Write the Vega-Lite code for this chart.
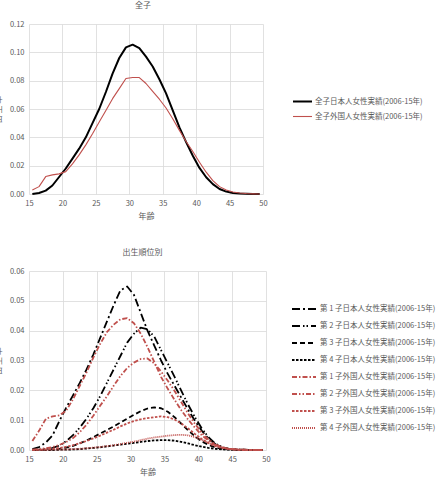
{
"$schema": "https://vega.github.io/schema/vega-lite/v6.json",
"padding": {"left": -6, "top": 2, "right": 0, "bottom": 0},
"background": "white",
"config": {
  "font": "Noto Sans CJK JP",
  "view": {"stroke": null},
  "axis": {"grid": true, "gridColor": "#d9d9d9", "gridWidth": 0.8, "domain": false, "ticks": false, "labelFlush": false, "labelColor": "#595959", "labelFontSize": 7.5, "titleColor": "#595959", "titleFontSize": 8, "titleFontWeight": "normal", "labelPadding": 5},
  "legend": {"labelColor": "#595959", "labelFontSize": 7.5, "symbolType": "stroke"},
  "title": {"fontSize": 8, "fontWeight": "normal", "color": "#595959"},
  "concat": {"spacing": 28}
},
"resolve": {"scale": {"color": "independent", "strokeWidth": "independent", "strokeDash": "independent"}, "legend": {"color": "independent", "strokeWidth": "independent", "strokeDash": "independent"}},
"datasets": {
"top": [
{"age":15.5,"s":"全子日本人女性実績(2006-15年)","v":0.0},
{"age":16.5,"s":"全子日本人女性実績(2006-15年)","v":0.0007},
{"age":17.5,"s":"全子日本人女性実績(2006-15年)","v":0.0024},
{"age":18.5,"s":"全子日本人女性実績(2006-15年)","v":0.006},
{"age":19.5,"s":"全子日本人女性実績(2006-15年)","v":0.012},
{"age":20.5,"s":"全子日本人女性実績(2006-15年)","v":0.018},
{"age":21.5,"s":"全子日本人女性実績(2006-15年)","v":0.025},
{"age":22.5,"s":"全子日本人女性実績(2006-15年)","v":0.032},
{"age":23.5,"s":"全子日本人女性実績(2006-15年)","v":0.040},
{"age":24.5,"s":"全子日本人女性実績(2006-15年)","v":0.050},
{"age":25.5,"s":"全子日本人女性実績(2006-15年)","v":0.060},
{"age":26.5,"s":"全子日本人女性実績(2006-15年)","v":0.072},
{"age":27.5,"s":"全子日本人女性実績(2006-15年)","v":0.085},
{"age":28.5,"s":"全子日本人女性実績(2006-15年)","v":0.096},
{"age":29.5,"s":"全子日本人女性実績(2006-15年)","v":0.1035},
{"age":30.5,"s":"全子日本人女性実績(2006-15年)","v":0.1054},
{"age":31.5,"s":"全子日本人女性実績(2006-15年)","v":0.103},
{"age":32.5,"s":"全子日本人女性実績(2006-15年)","v":0.097},
{"age":33.5,"s":"全子日本人女性実績(2006-15年)","v":0.090},
{"age":34.5,"s":"全子日本人女性実績(2006-15年)","v":0.081},
{"age":35.5,"s":"全子日本人女性実績(2006-15年)","v":0.071},
{"age":36.5,"s":"全子日本人女性実績(2006-15年)","v":0.059},
{"age":37.5,"s":"全子日本人女性実績(2006-15年)","v":0.047},
{"age":38.5,"s":"全子日本人女性実績(2006-15年)","v":0.0366},
{"age":39.5,"s":"全子日本人女性実績(2006-15年)","v":0.027},
{"age":40.5,"s":"全子日本人女性実績(2006-15年)","v":0.0184},
{"age":41.5,"s":"全子日本人女性実績(2006-15年)","v":0.0118},
{"age":42.5,"s":"全子日本人女性実績(2006-15年)","v":0.007},
{"age":43.5,"s":"全子日本人女性実績(2006-15年)","v":0.0035},
{"age":44.5,"s":"全子日本人女性実績(2006-15年)","v":0.0017},
{"age":45.5,"s":"全子日本人女性実績(2006-15年)","v":0.0007},
{"age":46.5,"s":"全子日本人女性実績(2006-15年)","v":0.0003},
{"age":47.5,"s":"全子日本人女性実績(2006-15年)","v":0.0001},
{"age":48.5,"s":"全子日本人女性実績(2006-15年)","v":0.0},
{"age":49.5,"s":"全子日本人女性実績(2006-15年)","v":0.0},
{"age":15.5,"s":"全子外国人女性実績(2006-15年)","v":0.0028},
{"age":16.5,"s":"全子外国人女性実績(2006-15年)","v":0.0052},
{"age":17.5,"s":"全子外国人女性実績(2006-15年)","v":0.0123},
{"age":18.5,"s":"全子外国人女性実績(2006-15年)","v":0.0135},
{"age":19.5,"s":"全子外国人女性実績(2006-15年)","v":0.0142},
{"age":20.5,"s":"全子外国人女性実績(2006-15年)","v":0.0158},
{"age":21.5,"s":"全子外国人女性実績(2006-15年)","v":0.0213},
{"age":22.5,"s":"全子外国人女性実績(2006-15年)","v":0.0276},
{"age":23.5,"s":"全子外国人女性実績(2006-15年)","v":0.0347},
{"age":24.5,"s":"全子外国人女性実績(2006-15年)","v":0.0425},
{"age":25.5,"s":"全子外国人女性実績(2006-15年)","v":0.0508},
{"age":26.5,"s":"全子外国人女性実績(2006-15年)","v":0.059},
{"age":27.5,"s":"全子外国人女性実績(2006-15年)","v":0.0673},
{"age":28.5,"s":"全子外国人女性実績(2006-15年)","v":0.0744},
{"age":29.5,"s":"全子外国人女性実績(2006-15年)","v":0.0815},
{"age":30.5,"s":"全子外国人女性実績(2006-15年)","v":0.0822},
{"age":31.5,"s":"全子外国人女性実績(2006-15年)","v":0.0822},
{"age":32.5,"s":"全子外国人女性実績(2006-15年)","v":0.078},
{"age":33.5,"s":"全子外国人女性実績(2006-15年)","v":0.0725},
{"age":34.5,"s":"全子外国人女性実績(2006-15年)","v":0.0669},
{"age":35.5,"s":"全子外国人女性実績(2006-15年)","v":0.0607},
{"age":36.5,"s":"全子外国人女性実績(2006-15年)","v":0.0531},
{"age":37.5,"s":"全子外国人女性実績(2006-15年)","v":0.0449},
{"age":38.5,"s":"全子外国人女性実績(2006-15年)","v":0.0371},
{"age":39.5,"s":"全子外国人女性実績(2006-15年)","v":0.030},
{"age":40.5,"s":"全子外国人女性実績(2006-15年)","v":0.0224},
{"age":41.5,"s":"全子外国人女性実績(2006-15年)","v":0.0154},
{"age":42.5,"s":"全子外国人女性実績(2006-15年)","v":0.0094},
{"age":43.5,"s":"全子外国人女性実績(2006-15年)","v":0.0052},
{"age":44.5,"s":"全子外国人女性実績(2006-15年)","v":0.0028},
{"age":45.5,"s":"全子外国人女性実績(2006-15年)","v":0.0014},
{"age":46.5,"s":"全子外国人女性実績(2006-15年)","v":0.0007},
{"age":47.5,"s":"全子外国人女性実績(2006-15年)","v":0.0003},
{"age":48.5,"s":"全子外国人女性実績(2006-15年)","v":0.0001},
{"age":49.5,"s":"全子外国人女性実績(2006-15年)","v":0.0}
],
"bottom": [
{"age":15.5,"s":"第 1 子日本人女性実績(2006-15年)","v":0.0003},
{"age":16.5,"s":"第 1 子日本人女性実績(2006-15年)","v":0.001},
{"age":17.5,"s":"第 1 子日本人女性実績(2006-15年)","v":0.0025},
{"age":18.5,"s":"第 1 子日本人女性実績(2006-15年)","v":0.005},
{"age":19.5,"s":"第 1 子日本人女性実績(2006-15年)","v":0.0098},
{"age":20.5,"s":"第 1 子日本人女性実績(2006-15年)","v":0.0142},
{"age":21.5,"s":"第 1 子日本人女性実績(2006-15年)","v":0.0183},
{"age":22.5,"s":"第 1 子日本人女性実績(2006-15年)","v":0.0225},
{"age":23.5,"s":"第 1 子日本人女性実績(2006-15年)","v":0.027},
{"age":24.5,"s":"第 1 子日本人女性実績(2006-15年)","v":0.032},
{"age":25.5,"s":"第 1 子日本人女性実績(2006-15年)","v":0.0375},
{"age":26.5,"s":"第 1 子日本人女性実績(2006-15年)","v":0.043},
{"age":27.5,"s":"第 1 子日本人女性実績(2006-15年)","v":0.0485},
{"age":28.5,"s":"第 1 子日本人女性実績(2006-15年)","v":0.0535},
{"age":29.5,"s":"第 1 子日本人女性実績(2006-15年)","v":0.0548},
{"age":30.5,"s":"第 1 子日本人女性実績(2006-15年)","v":0.052},
{"age":31.5,"s":"第 1 子日本人女性実績(2006-15年)","v":0.046},
{"age":32.5,"s":"第 1 子日本人女性実績(2006-15年)","v":0.040},
{"age":33.5,"s":"第 1 子日本人女性実績(2006-15年)","v":0.035},
{"age":34.5,"s":"第 1 子日本人女性実績(2006-15年)","v":0.030},
{"age":35.5,"s":"第 1 子日本人女性実績(2006-15年)","v":0.0255},
{"age":36.5,"s":"第 1 子日本人女性実績(2006-15年)","v":0.0215},
{"age":37.5,"s":"第 1 子日本人女性実績(2006-15年)","v":0.0175},
{"age":38.5,"s":"第 1 子日本人女性実績(2006-15年)","v":0.0135},
{"age":39.5,"s":"第 1 子日本人女性実績(2006-15年)","v":0.0098},
{"age":40.5,"s":"第 1 子日本人女性実績(2006-15年)","v":0.0065},
{"age":41.5,"s":"第 1 子日本人女性実績(2006-15年)","v":0.0038},
{"age":42.5,"s":"第 1 子日本人女性実績(2006-15年)","v":0.002},
{"age":43.5,"s":"第 1 子日本人女性実績(2006-15年)","v":0.0009},
{"age":44.5,"s":"第 1 子日本人女性実績(2006-15年)","v":0.0004},
{"age":45.5,"s":"第 1 子日本人女性実績(2006-15年)","v":0.0002},
{"age":46.5,"s":"第 1 子日本人女性実績(2006-15年)","v":0.0001},
{"age":47.5,"s":"第 1 子日本人女性実績(2006-15年)","v":0},
{"age":48.5,"s":"第 1 子日本人女性実績(2006-15年)","v":0},
{"age":49.5,"s":"第 1 子日本人女性実績(2006-15年)","v":0},
{"age":15.5,"s":"第 2 子日本人女性実績(2006-15年)","v":0},
{"age":16.5,"s":"第 2 子日本人女性実績(2006-15年)","v":0.0001},
{"age":17.5,"s":"第 2 子日本人女性実績(2006-15年)","v":0.0003},
{"age":18.5,"s":"第 2 子日本人女性実績(2006-15年)","v":0.0007},
{"age":19.5,"s":"第 2 子日本人女性実績(2006-15年)","v":0.0015},
{"age":20.5,"s":"第 2 子日本人女性実績(2006-15年)","v":0.003},
{"age":21.5,"s":"第 2 子日本人女性実績(2006-15年)","v":0.005},
{"age":22.5,"s":"第 2 子日本人女性実績(2006-15年)","v":0.0075},
{"age":23.5,"s":"第 2 子日本人女性実績(2006-15年)","v":0.0105},
{"age":24.5,"s":"第 2 子日本人女性実績(2006-15年)","v":0.014},
{"age":25.5,"s":"第 2 子日本人女性実績(2006-15年)","v":0.018},
{"age":26.5,"s":"第 2 子日本人女性実績(2006-15年)","v":0.0225},
{"age":27.5,"s":"第 2 子日本人女性実績(2006-15年)","v":0.027},
{"age":28.5,"s":"第 2 子日本人女性実績(2006-15年)","v":0.0315},
{"age":29.5,"s":"第 2 子日本人女性実績(2006-15年)","v":0.036},
{"age":30.5,"s":"第 2 子日本人女性実績(2006-15年)","v":0.039},
{"age":31.5,"s":"第 2 子日本人女性実績(2006-15年)","v":0.041},
{"age":32.5,"s":"第 2 子日本人女性実績(2006-15年)","v":0.0405},
{"age":33.5,"s":"第 2 子日本人女性実績(2006-15年)","v":0.038},
{"age":34.5,"s":"第 2 子日本人女性実績(2006-15年)","v":0.0335},
{"age":35.5,"s":"第 2 子日本人女性実績(2006-15年)","v":0.029},
{"age":36.5,"s":"第 2 子日本人女性実績(2006-15年)","v":0.0245},
{"age":37.5,"s":"第 2 子日本人女性実績(2006-15年)","v":0.0198},
{"age":38.5,"s":"第 2 子日本人女性実績(2006-15年)","v":0.0152},
{"age":39.5,"s":"第 2 子日本人女性実績(2006-15年)","v":0.011},
{"age":40.5,"s":"第 2 子日本人女性実績(2006-15年)","v":0.0073},
{"age":41.5,"s":"第 2 子日本人女性実績(2006-15年)","v":0.0043},
{"age":42.5,"s":"第 2 子日本人女性実績(2006-15年)","v":0.0022},
{"age":43.5,"s":"第 2 子日本人女性実績(2006-15年)","v":0.001},
{"age":44.5,"s":"第 2 子日本人女性実績(2006-15年)","v":0.0004},
{"age":45.5,"s":"第 2 子日本人女性実績(2006-15年)","v":0.0002},
{"age":46.5,"s":"第 2 子日本人女性実績(2006-15年)","v":0.0001},
{"age":47.5,"s":"第 2 子日本人女性実績(2006-15年)","v":0},
{"age":48.5,"s":"第 2 子日本人女性実績(2006-15年)","v":0},
{"age":49.5,"s":"第 2 子日本人女性実績(2006-15年)","v":0},
{"age":15.5,"s":"第 3 子日本人女性実績(2006-15年)","v":0},
{"age":16.5,"s":"第 3 子日本人女性実績(2006-15年)","v":0},
{"age":17.5,"s":"第 3 子日本人女性実績(2006-15年)","v":0.0001},
{"age":18.5,"s":"第 3 子日本人女性実績(2006-15年)","v":0.0002},
{"age":19.5,"s":"第 3 子日本人女性実績(2006-15年)","v":0.0004},
{"age":20.5,"s":"第 3 子日本人女性実績(2006-15年)","v":0.0008},
{"age":21.5,"s":"第 3 子日本人女性実績(2006-15年)","v":0.0014},
{"age":22.5,"s":"第 3 子日本人女性実績(2006-15年)","v":0.0022},
{"age":23.5,"s":"第 3 子日本人女性実績(2006-15年)","v":0.0032},
{"age":24.5,"s":"第 3 子日本人女性実績(2006-15年)","v":0.0043},
{"age":25.5,"s":"第 3 子日本人女性実績(2006-15年)","v":0.0055},
{"age":26.5,"s":"第 3 子日本人女性実績(2006-15年)","v":0.0067},
{"age":27.5,"s":"第 3 子日本人女性実績(2006-15年)","v":0.0079},
{"age":28.5,"s":"第 3 子日本人女性実績(2006-15年)","v":0.0092},
{"age":29.5,"s":"第 3 子日本人女性実績(2006-15年)","v":0.0105},
{"age":30.5,"s":"第 3 子日本人女性実績(2006-15年)","v":0.0118},
{"age":31.5,"s":"第 3 子日本人女性実績(2006-15年)","v":0.013},
{"age":32.5,"s":"第 3 子日本人女性実績(2006-15年)","v":0.0139},
{"age":33.5,"s":"第 3 子日本人女性実績(2006-15年)","v":0.0143},
{"age":34.5,"s":"第 3 子日本人女性実績(2006-15年)","v":0.014},
{"age":35.5,"s":"第 3 子日本人女性実績(2006-15年)","v":0.0128},
{"age":36.5,"s":"第 3 子日本人女性実績(2006-15年)","v":0.011},
{"age":37.5,"s":"第 3 子日本人女性実績(2006-15年)","v":0.0088},
{"age":38.5,"s":"第 3 子日本人女性実績(2006-15年)","v":0.0066},
{"age":39.5,"s":"第 3 子日本人女性実績(2006-15年)","v":0.0046},
{"age":40.5,"s":"第 3 子日本人女性実績(2006-15年)","v":0.0029},
{"age":41.5,"s":"第 3 子日本人女性実績(2006-15年)","v":0.0017},
{"age":42.5,"s":"第 3 子日本人女性実績(2006-15年)","v":0.0009},
{"age":43.5,"s":"第 3 子日本人女性実績(2006-15年)","v":0.0004},
{"age":44.5,"s":"第 3 子日本人女性実績(2006-15年)","v":0.0002},
{"age":45.5,"s":"第 3 子日本人女性実績(2006-15年)","v":0.0001},
{"age":46.5,"s":"第 3 子日本人女性実績(2006-15年)","v":0},
{"age":47.5,"s":"第 3 子日本人女性実績(2006-15年)","v":0},
{"age":48.5,"s":"第 3 子日本人女性実績(2006-15年)","v":0},
{"age":49.5,"s":"第 3 子日本人女性実績(2006-15年)","v":0},
{"age":15.5,"s":"第 4 子日本人女性実績(2006-15年)","v":0},
{"age":16.5,"s":"第 4 子日本人女性実績(2006-15年)","v":0},
{"age":17.5,"s":"第 4 子日本人女性実績(2006-15年)","v":0},
{"age":18.5,"s":"第 4 子日本人女性実績(2006-15年)","v":0},
{"age":19.5,"s":"第 4 子日本人女性実績(2006-15年)","v":0.0001},
{"age":20.5,"s":"第 4 子日本人女性実績(2006-15年)","v":0.0001},
{"age":21.5,"s":"第 4 子日本人女性実績(2006-15年)","v":0.0002},
{"age":22.5,"s":"第 4 子日本人女性実績(2006-15年)","v":0.0003},
{"age":23.5,"s":"第 4 子日本人女性実績(2006-15年)","v":0.0005},
{"age":24.5,"s":"第 4 子日本人女性実績(2006-15年)","v":0.0007},
{"age":25.5,"s":"第 4 子日本人女性実績(2006-15年)","v":0.0009},
{"age":26.5,"s":"第 4 子日本人女性実績(2006-15年)","v":0.0012},
{"age":27.5,"s":"第 4 子日本人女性実績(2006-15年)","v":0.0015},
{"age":28.5,"s":"第 4 子日本人女性実績(2006-15年)","v":0.0018},
{"age":29.5,"s":"第 4 子日本人女性実績(2006-15年)","v":0.0021},
{"age":30.5,"s":"第 4 子日本人女性実績(2006-15年)","v":0.0024},
{"age":31.5,"s":"第 4 子日本人女性実績(2006-15年)","v":0.0027},
{"age":32.5,"s":"第 4 子日本人女性実績(2006-15年)","v":0.003},
{"age":33.5,"s":"第 4 子日本人女性実績(2006-15年)","v":0.0032},
{"age":34.5,"s":"第 4 子日本人女性実績(2006-15年)","v":0.0033},
{"age":35.5,"s":"第 4 子日本人女性実績(2006-15年)","v":0.0033},
{"age":36.5,"s":"第 4 子日本人女性実績(2006-15年)","v":0.0031},
{"age":37.5,"s":"第 4 子日本人女性実績(2006-15年)","v":0.0027},
{"age":38.5,"s":"第 4 子日本人女性実績(2006-15年)","v":0.0022},
{"age":39.5,"s":"第 4 子日本人女性実績(2006-15年)","v":0.0016},
{"age":40.5,"s":"第 4 子日本人女性実績(2006-15年)","v":0.0011},
{"age":41.5,"s":"第 4 子日本人女性実績(2006-15年)","v":0.0007},
{"age":42.5,"s":"第 4 子日本人女性実績(2006-15年)","v":0.0004},
{"age":43.5,"s":"第 4 子日本人女性実績(2006-15年)","v":0.0002},
{"age":44.5,"s":"第 4 子日本人女性実績(2006-15年)","v":0.0001},
{"age":45.5,"s":"第 4 子日本人女性実績(2006-15年)","v":0},
{"age":46.5,"s":"第 4 子日本人女性実績(2006-15年)","v":0},
{"age":47.5,"s":"第 4 子日本人女性実績(2006-15年)","v":0},
{"age":48.5,"s":"第 4 子日本人女性実績(2006-15年)","v":0},
{"age":49.5,"s":"第 4 子日本人女性実績(2006-15年)","v":0},
{"age":15.5,"s":"第 1 子外国人女性実績(2006-15年)","v":0.003},
{"age":16.5,"s":"第 1 子外国人女性実績(2006-15年)","v":0.0065},
{"age":17.5,"s":"第 1 子外国人女性実績(2006-15年)","v":0.0105},
{"age":18.5,"s":"第 1 子外国人女性実績(2006-15年)","v":0.0113},
{"age":19.5,"s":"第 1 子外国人女性実績(2006-15年)","v":0.0116},
{"age":20.5,"s":"第 1 子外国人女性実績(2006-15年)","v":0.0132},
{"age":21.5,"s":"第 1 子外国人女性実績(2006-15年)","v":0.017},
{"age":22.5,"s":"第 1 子外国人女性実績(2006-15年)","v":0.0215},
{"age":23.5,"s":"第 1 子外国人女性実績(2006-15年)","v":0.026},
{"age":24.5,"s":"第 1 子外国人女性実績(2006-15年)","v":0.031},
{"age":25.5,"s":"第 1 子外国人女性実績(2006-15年)","v":0.0355},
{"age":26.5,"s":"第 1 子外国人女性実績(2006-15年)","v":0.0395},
{"age":27.5,"s":"第 1 子外国人女性実績(2006-15年)","v":0.042},
{"age":28.5,"s":"第 1 子外国人女性実績(2006-15年)","v":0.0438},
{"age":29.5,"s":"第 1 子外国人女性実績(2006-15年)","v":0.0442},
{"age":30.5,"s":"第 1 子外国人女性実績(2006-15年)","v":0.0425},
{"age":31.5,"s":"第 1 子外国人女性実績(2006-15年)","v":0.039},
{"age":32.5,"s":"第 1 子外国人女性実績(2006-15年)","v":0.0345},
{"age":33.5,"s":"第 1 子外国人女性実績(2006-15年)","v":0.0295},
{"age":34.5,"s":"第 1 子外国人女性実績(2006-15年)","v":0.0245},
{"age":35.5,"s":"第 1 子外国人女性実績(2006-15年)","v":0.0205},
{"age":36.5,"s":"第 1 子外国人女性実績(2006-15年)","v":0.0168},
{"age":37.5,"s":"第 1 子外国人女性実績(2006-15年)","v":0.0133},
{"age":38.5,"s":"第 1 子外国人女性実績(2006-15年)","v":0.0102},
{"age":39.5,"s":"第 1 子外国人女性実績(2006-15年)","v":0.0075},
{"age":40.5,"s":"第 1 子外国人女性実績(2006-15年)","v":0.005},
{"age":41.5,"s":"第 1 子外国人女性実績(2006-15年)","v":0.0031},
{"age":42.5,"s":"第 1 子外国人女性実績(2006-15年)","v":0.0017},
{"age":43.5,"s":"第 1 子外国人女性実績(2006-15年)","v":0.0009},
{"age":44.5,"s":"第 1 子外国人女性実績(2006-15年)","v":0.0004},
{"age":45.5,"s":"第 1 子外国人女性実績(2006-15年)","v":0.0002},
{"age":46.5,"s":"第 1 子外国人女性実績(2006-15年)","v":0.0001},
{"age":47.5,"s":"第 1 子外国人女性実績(2006-15年)","v":0},
{"age":48.5,"s":"第 1 子外国人女性実績(2006-15年)","v":0},
{"age":49.5,"s":"第 1 子外国人女性実績(2006-15年)","v":0},
{"age":15.5,"s":"第 2 子外国人女性実績(2006-15年)","v":0.0001},
{"age":16.5,"s":"第 2 子外国人女性実績(2006-15年)","v":0.0003},
{"age":17.5,"s":"第 2 子外国人女性実績(2006-15年)","v":0.0006},
{"age":18.5,"s":"第 2 子外国人女性実績(2006-15年)","v":0.001},
{"age":19.5,"s":"第 2 子外国人女性実績(2006-15年)","v":0.0017},
{"age":20.5,"s":"第 2 子外国人女性実績(2006-15年)","v":0.0027},
{"age":21.5,"s":"第 2 子外国人女性実績(2006-15年)","v":0.004},
{"age":22.5,"s":"第 2 子外国人女性実績(2006-15年)","v":0.006},
{"age":23.5,"s":"第 2 子外国人女性実績(2006-15年)","v":0.0085},
{"age":24.5,"s":"第 2 子外国人女性実績(2006-15年)","v":0.0115},
{"age":25.5,"s":"第 2 子外国人女性実績(2006-15年)","v":0.0148},
{"age":26.5,"s":"第 2 子外国人女性実績(2006-15年)","v":0.018},
{"age":27.5,"s":"第 2 子外国人女性実績(2006-15年)","v":0.0215},
{"age":28.5,"s":"第 2 子外国人女性実績(2006-15年)","v":0.0248},
{"age":29.5,"s":"第 2 子外国人女性実績(2006-15年)","v":0.0275},
{"age":30.5,"s":"第 2 子外国人女性実績(2006-15年)","v":0.0293},
{"age":31.5,"s":"第 2 子外国人女性実績(2006-15年)","v":0.0305},
{"age":32.5,"s":"第 2 子外国人女性実績(2006-15年)","v":0.0307},
{"age":33.5,"s":"第 2 子外国人女性実績(2006-15年)","v":0.029},
{"age":34.5,"s":"第 2 子外国人女性実績(2006-15年)","v":0.0263},
{"age":35.5,"s":"第 2 子外国人女性実績(2006-15年)","v":0.0232},
{"age":36.5,"s":"第 2 子外国人女性実績(2006-15年)","v":0.0198},
{"age":37.5,"s":"第 2 子外国人女性実績(2006-15年)","v":0.016},
{"age":38.5,"s":"第 2 子外国人女性実績(2006-15年)","v":0.0122},
{"age":39.5,"s":"第 2 子外国人女性実績(2006-15年)","v":0.0088},
{"age":40.5,"s":"第 2 子外国人女性実績(2006-15年)","v":0.0058},
{"age":41.5,"s":"第 2 子外国人女性実績(2006-15年)","v":0.0035},
{"age":42.5,"s":"第 2 子外国人女性実績(2006-15年)","v":0.0019},
{"age":43.5,"s":"第 2 子外国人女性実績(2006-15年)","v":0.0009},
{"age":44.5,"s":"第 2 子外国人女性実績(2006-15年)","v":0.0004},
{"age":45.5,"s":"第 2 子外国人女性実績(2006-15年)","v":0.0002},
{"age":46.5,"s":"第 2 子外国人女性実績(2006-15年)","v":0.0001},
{"age":47.5,"s":"第 2 子外国人女性実績(2006-15年)","v":0},
{"age":48.5,"s":"第 2 子外国人女性実績(2006-15年)","v":0},
{"age":49.5,"s":"第 2 子外国人女性実績(2006-15年)","v":0},
{"age":15.5,"s":"第 3 子外国人女性実績(2006-15年)","v":0},
{"age":16.5,"s":"第 3 子外国人女性実績(2006-15年)","v":0.0001},
{"age":17.5,"s":"第 3 子外国人女性実績(2006-15年)","v":0.0002},
{"age":18.5,"s":"第 3 子外国人女性実績(2006-15年)","v":0.0004},
{"age":19.5,"s":"第 3 子外国人女性実績(2006-15年)","v":0.0007},
{"age":20.5,"s":"第 3 子外国人女性実績(2006-15年)","v":0.0011},
{"age":21.5,"s":"第 3 子外国人女性実績(2006-15年)","v":0.0016},
{"age":22.5,"s":"第 3 子外国人女性実績(2006-15年)","v":0.0023},
{"age":23.5,"s":"第 3 子外国人女性実績(2006-15年)","v":0.003},
{"age":24.5,"s":"第 3 子外国人女性実績(2006-15年)","v":0.0039},
{"age":25.5,"s":"第 3 子外国人女性実績(2006-15年)","v":0.0048},
{"age":26.5,"s":"第 3 子外国人女性実績(2006-15年)","v":0.0058},
{"age":27.5,"s":"第 3 子外国人女性実績(2006-15年)","v":0.0068},
{"age":28.5,"s":"第 3 子外国人女性実績(2006-15年)","v":0.0079},
{"age":29.5,"s":"第 3 子外国人女性実績(2006-15年)","v":0.0089},
{"age":30.5,"s":"第 3 子外国人女性実績(2006-15年)","v":0.0097},
{"age":31.5,"s":"第 3 子外国人女性実績(2006-15年)","v":0.0103},
{"age":32.5,"s":"第 3 子外国人女性実績(2006-15年)","v":0.0107},
{"age":33.5,"s":"第 3 子外国人女性実績(2006-15年)","v":0.011},
{"age":34.5,"s":"第 3 子外国人女性実績(2006-15年)","v":0.0113},
{"age":35.5,"s":"第 3 子外国人女性実績(2006-15年)","v":0.011},
{"age":36.5,"s":"第 3 子外国人女性実績(2006-15年)","v":0.0102},
{"age":37.5,"s":"第 3 子外国人女性実績(2006-15年)","v":0.0089},
{"age":38.5,"s":"第 3 子外国人女性実績(2006-15年)","v":0.0072},
{"age":39.5,"s":"第 3 子外国人女性実績(2006-15年)","v":0.0054},
{"age":40.5,"s":"第 3 子外国人女性実績(2006-15年)","v":0.0037},
{"age":41.5,"s":"第 3 子外国人女性実績(2006-15年)","v":0.0023},
{"age":42.5,"s":"第 3 子外国人女性実績(2006-15年)","v":0.0013},
{"age":43.5,"s":"第 3 子外国人女性実績(2006-15年)","v":0.0007},
{"age":44.5,"s":"第 3 子外国人女性実績(2006-15年)","v":0.0003},
{"age":45.5,"s":"第 3 子外国人女性実績(2006-15年)","v":0.0001},
{"age":46.5,"s":"第 3 子外国人女性実績(2006-15年)","v":0},
{"age":47.5,"s":"第 3 子外国人女性実績(2006-15年)","v":0},
{"age":48.5,"s":"第 3 子外国人女性実績(2006-15年)","v":0},
{"age":49.5,"s":"第 3 子外国人女性実績(2006-15年)","v":0},
{"age":15.5,"s":"第 4 子外国人女性実績(2006-15年)","v":0},
{"age":16.5,"s":"第 4 子外国人女性実績(2006-15年)","v":0},
{"age":17.5,"s":"第 4 子外国人女性実績(2006-15年)","v":0},
{"age":18.5,"s":"第 4 子外国人女性実績(2006-15年)","v":0.0001},
{"age":19.5,"s":"第 4 子外国人女性実績(2006-15年)","v":0.0001},
{"age":20.5,"s":"第 4 子外国人女性実績(2006-15年)","v":0.0002},
{"age":21.5,"s":"第 4 子外国人女性実績(2006-15年)","v":0.0003},
{"age":22.5,"s":"第 4 子外国人女性実績(2006-15年)","v":0.0004},
{"age":23.5,"s":"第 4 子外国人女性実績(2006-15年)","v":0.0006},
{"age":24.5,"s":"第 4 子外国人女性実績(2006-15年)","v":0.0008},
{"age":25.5,"s":"第 4 子外国人女性実績(2006-15年)","v":0.001},
{"age":26.5,"s":"第 4 子外国人女性実績(2006-15年)","v":0.0013},
{"age":27.5,"s":"第 4 子外国人女性実績(2006-15年)","v":0.0016},
{"age":28.5,"s":"第 4 子外国人女性実績(2006-15年)","v":0.002},
{"age":29.5,"s":"第 4 子外国人女性実績(2006-15年)","v":0.0024},
{"age":30.5,"s":"第 4 子外国人女性実績(2006-15年)","v":0.0028},
{"age":31.5,"s":"第 4 子外国人女性実績(2006-15年)","v":0.0033},
{"age":32.5,"s":"第 4 子外国人女性実績(2006-15年)","v":0.0038},
{"age":33.5,"s":"第 4 子外国人女性実績(2006-15年)","v":0.0042},
{"age":34.5,"s":"第 4 子外国人女性実績(2006-15年)","v":0.0045},
{"age":35.5,"s":"第 4 子外国人女性実績(2006-15年)","v":0.0048},
{"age":36.5,"s":"第 4 子外国人女性実績(2006-15年)","v":0.005},
{"age":37.5,"s":"第 4 子外国人女性実績(2006-15年)","v":0.0051},
{"age":38.5,"s":"第 4 子外国人女性実績(2006-15年)","v":0.0049},
{"age":39.5,"s":"第 4 子外国人女性実績(2006-15年)","v":0.0043},
{"age":40.5,"s":"第 4 子外国人女性実績(2006-15年)","v":0.0034},
{"age":41.5,"s":"第 4 子外国人女性実績(2006-15年)","v":0.0024},
{"age":42.5,"s":"第 4 子外国人女性実績(2006-15年)","v":0.0015},
{"age":43.5,"s":"第 4 子外国人女性実績(2006-15年)","v":0.0008},
{"age":44.5,"s":"第 4 子外国人女性実績(2006-15年)","v":0.0004},
{"age":45.5,"s":"第 4 子外国人女性実績(2006-15年)","v":0.0002},
{"age":46.5,"s":"第 4 子外国人女性実績(2006-15年)","v":0.0001},
{"age":47.5,"s":"第 4 子外国人女性実績(2006-15年)","v":0},
{"age":48.5,"s":"第 4 子外国人女性実績(2006-15年)","v":0},
{"age":49.5,"s":"第 4 子外国人女性実績(2006-15年)","v":0}
]
},
"vconcat": [
{
  "title": {"text": "全子", "dx": -3, "offset": 10},
  "width": 234, "height": 170,
  "data": {"name": "top"},
  "mark": {"type": "line", "strokeJoin": "round"},
  "encoding": {
    "x": {"field": "age", "type": "quantitative", "scale": {"domain": [15, 50], "nice": false}, "axis": {"values": [15,20,25,30,35,40,45,50], "title": "年齢", "titlePadding": 6}},
    "y": {"field": "v", "type": "quantitative", "scale": {"domain": [0, 0.12], "nice": false}, "axis": {"values": [0,0.02,0.04,0.06,0.08,0.1,0.12], "format": ".2f", "title": "出 生 率", "titlePadding": 7}},
    "color": {"field": "s", "type": "nominal", "scale": {"domain": ["全子日本人女性実績(2006-15年)", "全子外国人女性実績(2006-15年)"], "range": ["#000000", "#C0504D"]}, "legend": {"orient": "none", "legendX": 263, "legendY": 67, "title": null, "symbolSize": 360, "rowPadding": -4, "labelOffset": 2}},
    "strokeWidth": {"field": "s", "type": "nominal", "scale": {"domain": ["全子日本人女性実績(2006-15年)", "全子外国人女性実績(2006-15年)"], "range": [2, 1.1]}, "legend": {"orient": "none", "legendX": 263, "legendY": 67, "title": null, "symbolSize": 360, "rowPadding": -4, "labelOffset": 2}}
  }
},
{
  "title": {"text": "出生順位別", "dx": -5, "offset": 10},
  "width": 237, "height": 179,
  "data": {"name": "bottom"},
  "mark": {"type": "line", "strokeJoin": "round"},
  "encoding": {
    "x": {"field": "age", "type": "quantitative", "scale": {"domain": [15, 50], "nice": false}, "axis": {"values": [15,20,25,30,35,40,45,50], "title": "年齢", "titlePadding": 6}},
    "y": {"field": "v", "type": "quantitative", "scale": {"domain": [0, 0.06], "nice": false}, "axis": {"values": [0,0.01,0.02,0.03,0.04,0.05,0.06], "format": ".2f", "title": "出 生 率", "titlePadding": 7}},
    "color": {"field": "s", "type": "nominal", "scale": {"domain": ["第 1 子日本人女性実績(2006-15年)","第 2 子日本人女性実績(2006-15年)","第 3 子日本人女性実績(2006-15年)","第 4 子日本人女性実績(2006-15年)","第 1 子外国人女性実績(2006-15年)","第 2 子外国人女性実績(2006-15年)","第 3 子外国人女性実績(2006-15年)","第 4 子外国人女性実績(2006-15年)"], "range": ["#000000","#000000","#000000","#000000","#C0504D","#C0504D","#C0504D","#C0504D"]}, "legend": {"orient": "none", "legendX": 262, "legendY": 25, "title": null, "symbolSize": 576, "rowPadding": -13.5, "labelOffset": 3}},
    "strokeWidth": {"field": "s", "type": "nominal", "scale": {"domain": ["第 1 子日本人女性実績(2006-15年)","第 2 子日本人女性実績(2006-15年)","第 3 子日本人女性実績(2006-15年)","第 4 子日本人女性実績(2006-15年)","第 1 子外国人女性実績(2006-15年)","第 2 子外国人女性実績(2006-15年)","第 3 子外国人女性実績(2006-15年)","第 4 子外国人女性実績(2006-15年)"], "range": [1.8,1.8,1.8,1.8,1,1,1,1]}, "legend": {"orient": "none", "legendX": 262, "legendY": 25, "title": null, "symbolSize": 576, "rowPadding": -13.5, "labelOffset": 3}},
    "strokeDash": {"field": "s", "type": "nominal", "scale": {"domain": ["第 1 子日本人女性実績(2006-15年)","第 2 子日本人女性実績(2006-15年)","第 3 子日本人女性実績(2006-15年)","第 4 子日本人女性実績(2006-15年)","第 1 子外国人女性実績(2006-15年)","第 2 子外国人女性実績(2006-15年)","第 3 子外国人女性実績(2006-15年)","第 4 子外国人女性実績(2006-15年)"], "range": [[8,3,2,3],[8,3,1.5,2,1.5,3],[5,3],[2.5,1.5],[5,2,1.5,2],[5,2,1.5,2,1.5,2],[2.5,1.5],[1,1]]}, "legend": {"orient": "none", "legendX": 262, "legendY": 25, "title": null, "symbolSize": 576, "rowPadding": -13.5, "labelOffset": 3}}
  }
}
]
}
